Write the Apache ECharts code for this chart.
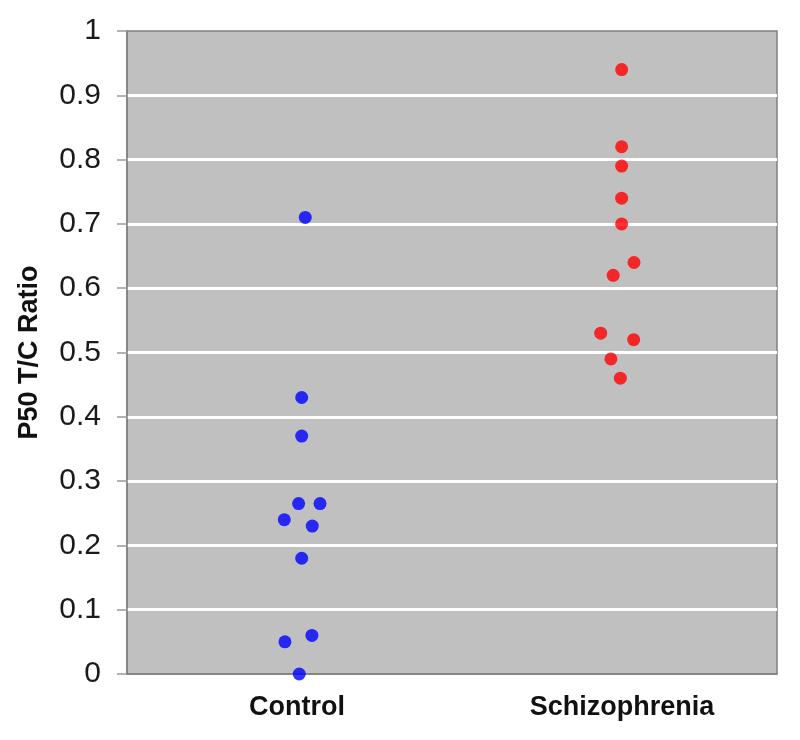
<!DOCTYPE html>
<html>
<head>
<meta charset="utf-8">
<script src="https://cdn.jsdelivr.net/npm/echarts@6/dist/echarts.min.js"></script>
<style>html,body{margin:0;padding:0;background:#fff}#c{width:800px;height:740px}</style>
</head>
<body>
<div id="c"></div>
<script>
var categories = ['Control', 'Schizophrenia'];
var categoryPositions = [1, 3];
var controlX = [1.051, 1.029, 1.029, 1.010, 1.142, 0.922, 1.094, 1.029, 0.926, 1.092, 1.014];
var controlY = [0.71, 0.43, 0.37, 0.265, 0.265, 0.24, 0.23, 0.18, 0.05, 0.06, 0.0];
var schizX = [2.998, 2.998, 2.998, 2.998, 2.998, 3.074, 2.946, 2.869, 3.072, 2.932, 2.990];
var schizY = [0.94, 0.82, 0.79, 0.74, 0.70, 0.64, 0.62, 0.53, 0.52, 0.49, 0.46];

function pairs(xs, ys) { return xs.map(function (x, i) { return [x, ys[i]]; }); }

var chart = echarts.init(document.getElementById('c'), null, { renderer: 'canvas' });
chart.setOption({
  animation: false,
  backgroundColor: '#ffffff',
  grid: {
    left: 127, right: 23, top: 31, bottom: 66,
    show: true, backgroundColor: '#c0c0c0', borderColor: '#808080', borderWidth: 1.5
  },
  xAxis: {
    type: 'value', min: -0.046, max: 3.954,
    axisLine: { show: true, lineStyle: { color: '#808080', width: 1.5 } },
    axisTick: { show: false },
    splitLine: { show: false },
    axisLabel: {
      customValues: categoryPositions,
      formatter: function (v) {
        var i = categoryPositions.indexOf(Math.round(v));
        return i >= 0 ? categories[i] : '';
      },
      fontFamily: 'Liberation Sans', fontSize: 27, fontWeight: 'bold', color: '#111', margin: 20
    }
  },
  yAxis: {
    type: 'value', min: 0, max: 1, interval: 0.1,
    name: 'P50 T/C Ratio', nameLocation: 'middle', nameGap: 84, nameRotate: 90,
    nameTextStyle: { fontFamily: 'Liberation Sans', fontSize: 27, fontWeight: 'bold', color: '#111' },
    axisLine: { show: true, onZero: false, lineStyle: { color: '#808080', width: 1.5 } },
    axisTick: { show: true, inside: false, length: 10, lineStyle: { color: '#9a9a9a', width: 1.5 } },
    splitLine: { show: true, showMinLine: false, showMaxLine: false, lineStyle: { color: '#ffffff', width: 3 } },
    axisLabel: { fontFamily: 'Liberation Sans', fontSize: 30, color: '#1a1a1a', margin: 26 }
  },
  series: [
    { type: 'scatter', data: pairs(controlX, controlY), symbolSize: 13,
      itemStyle: { color: '#0000ff' }, clip: false },
    { type: 'scatter', data: pairs(schizX, schizY), symbolSize: 13,
      itemStyle: { color: '#ff0000' }, clip: false }
  ]
});
</script>
</body>
</html>
